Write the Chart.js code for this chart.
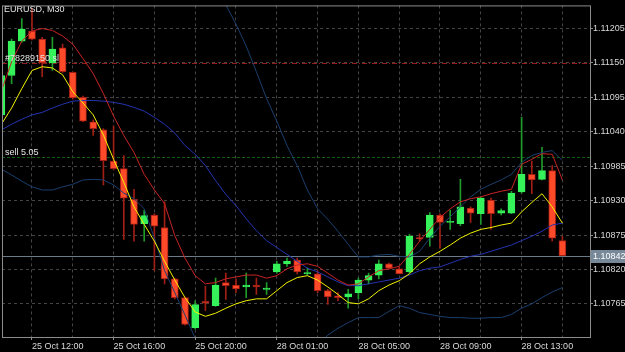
<!DOCTYPE html>
<html>
<head>
<meta charset="utf-8">
<script src="https://cdn.jsdelivr.net/npm/chart.js@4.4.1/dist/chart.umd.min.js"></script>
<style>
  html, body { margin: 0; padding: 0; background: #000; }
  #wrap { width: 625px; height: 352px; }
</style>
</head>
<body>
<div id="wrap"><canvas id="chart"></canvas></div>
<script>
const symbol = 'EURUSD, M30';

// M30 bars, Fri 25 Oct 10:30 -> Mon 28 Oct 15:00
const times = [
  '25 Oct 10:30', '25 Oct 11:00', '25 Oct 11:30', '25 Oct 12:00', '25 Oct 12:30', '25 Oct 13:00', '25 Oct 13:30', '25 Oct 14:00',
  '25 Oct 14:30', '25 Oct 15:00', '25 Oct 15:30', '25 Oct 16:00', '25 Oct 16:30', '25 Oct 17:00', '25 Oct 17:30', '25 Oct 18:00',
  '25 Oct 18:30', '25 Oct 19:00', '25 Oct 19:30', '25 Oct 20:00', '25 Oct 20:30', '25 Oct 21:00', '25 Oct 21:30', '25 Oct 22:00',
  '25 Oct 22:30', '25 Oct 23:00', '25 Oct 23:30', '28 Oct 01:00', '28 Oct 01:30', '28 Oct 02:00', '28 Oct 02:30', '28 Oct 03:00',
  '28 Oct 03:30', '28 Oct 04:00', '28 Oct 04:30', '28 Oct 05:00', '28 Oct 05:30', '28 Oct 06:00', '28 Oct 06:30', '28 Oct 07:00',
  '28 Oct 07:30', '28 Oct 08:00', '28 Oct 08:30', '28 Oct 09:00', '28 Oct 09:30', '28 Oct 10:00', '28 Oct 10:30', '28 Oct 11:00',
  '28 Oct 11:30', '28 Oct 12:00', '28 Oct 12:30', '28 Oct 13:00', '28 Oct 13:30', '28 Oct 14:00', '28 Oct 14:30', '28 Oct 15:00'
];

const opens = [
  1.11067, 1.11130, 1.11185, 1.11201, 1.11188, 1.11150, 1.11174, 1.11135, 1.11095, 1.11056,
  1.11043, 1.10993, 1.10981, 1.10932, 1.10893, 1.10907, 1.10887, 1.10805, 1.10775, 1.10727,
  1.10769, 1.10762, 1.10799, 1.10795, 1.10792, 1.10795, 1.10788, 1.10816, 1.10829, 1.10835,
  1.10813, 1.10813, 1.10786, 1.10778, 1.10776, 1.10783, 1.10803, 1.10811, 1.10829, 1.10821,
  1.10816, 1.10871, 1.10871, 1.10907, 1.10895, 1.10893, 1.10918, 1.10909, 1.10931, 1.10910,
  1.10910, 1.10944, 1.10972, 1.10964, 1.10978, 1.10866
];
const highs = [
  1.11133, 1.11188, 1.11221, 1.11237, 1.11191, 1.11191, 1.11180, 1.11136, 1.11097, 1.11059,
  1.11045, 1.11049, 1.11002, 1.10948, 1.10915, 1.10909, 1.10928, 1.10806, 1.10776, 1.10770,
  1.10793, 1.10806, 1.10814, 1.10805, 1.10814, 1.10806, 1.10799, 1.10833, 1.10838, 1.10838,
  1.10822, 1.10818, 1.10788, 1.10783, 1.10788, 1.10806, 1.10814, 1.10835, 1.10830, 1.10824,
  1.10876, 1.10877, 1.10911, 1.10909, 1.10915, 1.10964, 1.10920, 1.10936, 1.10934, 1.10917,
  1.10945, 1.11063, 1.10993, 1.11015, 1.10986, 1.10873
];
const lows = [
  1.11064, 1.11117, 1.11183, 1.11187, 1.11128, 1.11138, 1.11135, 1.11092, 1.11056, 1.11034,
  1.10955, 1.10980, 1.10868, 1.10865, 1.10865, 1.10818, 1.10797, 1.10773, 1.10731, 1.10725,
  1.10754, 1.10761, 1.10772, 1.10783, 1.10775, 1.10780, 1.10780, 1.10814, 1.10825, 1.10813,
  1.10811, 1.10783, 1.10764, 1.10770, 1.10758, 1.10773, 1.10797, 1.10805, 1.10821, 1.10813,
  1.10814, 1.10865, 1.10857, 1.10854, 1.10884, 1.10890, 1.10895, 1.10892, 1.10884, 1.10907,
  1.10909, 1.10942, 1.10941, 1.10963, 1.10865, 1.10842
];
const closes = [
  1.11130, 1.11185, 1.11204, 1.11188, 1.11150, 1.11172, 1.11136, 1.11094, 1.11057, 1.11045,
  1.10994, 1.10981, 1.10934, 1.10892, 1.10906, 1.10889, 1.10805, 1.10775, 1.10732, 1.10764,
  1.10766, 1.10795, 1.10794, 1.10789, 1.10795, 1.10792, 1.10790, 1.10829, 1.10833, 1.10816,
  1.10815, 1.10786, 1.10776, 1.10775, 1.10781, 1.10803, 1.10810, 1.10829, 1.10822, 1.10813,
  1.10873, 1.10869, 1.10907, 1.10895, 1.10897, 1.10920, 1.10910, 1.10934, 1.10909, 1.10914,
  1.10942, 1.10972, 1.10963, 1.10978, 1.10870, 1.10842
];

// indicators
const maYellow = [
  1.11052, 1.11078, 1.11109, 1.11138, 1.11144, 1.11142, 1.11131, 1.11104, 1.11086, 1.11067,
  1.11035, 1.10996, 1.10959, 1.10920, 1.10892, 1.10865, 1.10833, 1.10803, 1.10775, 1.10752,
  1.10745, 1.10750, 1.10758, 1.10765, 1.10770, 1.10773, 1.10773, 1.10786, 1.10799, 1.10807,
  1.10810, 1.10803, 1.10792, 1.10780, 1.10767, 1.10765, 1.10773, 1.10786, 1.10795, 1.10802,
  1.10813, 1.10829, 1.10840, 1.10849, 1.10859, 1.10870, 1.10878, 1.10884, 1.10887, 1.10891,
  1.10894, 1.10912, 1.10927, 1.10941, 1.10920, 1.10894
];
const maRed = [
  1.11105, 1.11152, 1.11185, 1.11201, 1.11205, 1.11202, 1.11193, 1.11180, 1.11157, 1.11133,
  1.11101, 1.11065, 1.11034, 1.11007, 1.10972, 1.10947, 1.10925, 1.10874, 1.10838, 1.10810,
  1.10797, 1.10799, 1.10805, 1.10808, 1.10811, 1.10811, 1.10806, 1.10810, 1.10821, 1.10827,
  1.10829, 1.10825, 1.10814, 1.10803, 1.10795, 1.10797, 1.10808, 1.10818, 1.10821, 1.10825,
  1.10844, 1.10865, 1.10884, 1.10903, 1.10917, 1.10928, 1.10933, 1.10936, 1.10941, 1.10945,
  1.10948, 1.10988, 1.10996, 1.11005, 1.11004, 1.10963
];
const bandMid = [
  1.11043, 1.11052, 1.11060, 1.11067, 1.11071, 1.11078, 1.11084, 1.11089, 1.11090, 1.11090,
  1.11089, 1.11087, 1.11084, 1.11079, 1.11073, 1.11063, 1.11052, 1.11038, 1.11018, 1.11004,
  1.10986, 1.10962, 1.10940, 1.10922, 1.10901, 1.10882, 1.10866, 1.10855, 1.10844, 1.10833,
  1.10822, 1.10816, 1.10808, 1.10800, 1.10794, 1.10794, 1.10797, 1.10800, 1.10803, 1.10806,
  1.10811, 1.10818, 1.10822, 1.10824, 1.10830, 1.10836, 1.10841, 1.10844, 1.10849, 1.10854,
  1.10859, 1.10866, 1.10873, 1.10881, 1.10891, 1.10894
];
const bandUp = [
  null, null, null, null, null, null, null, null, null, null,
  null, null, null, null, null, null, null, 1.11420, 1.11390, 1.11354,
  1.11314, 1.11278, 1.11243, 1.11212, 1.11177, 1.11136, 1.11093, 1.11057, 1.11018, 1.10986,
  1.10947, 1.10917, 1.10900, 1.10881, 1.10860, 1.10840, 1.10840, 1.10843, 1.10844, 1.10841,
  1.10840, 1.10849, 1.10870, 1.10889, 1.10904, 1.10920, 1.10936, 1.10948, 1.10956, 1.10963,
  1.10972, 1.10991, 1.11002, 1.11007, 1.11010, 1.10994
];
const bandLow = [
  1.10980, 1.10971, 1.10961, 1.10952, 1.10947, 1.10947, 1.10952, 1.10956, 1.10963, 1.10964,
  1.10963, 1.10955, 1.10942, 1.10933, 1.10917, 1.10870, 1.10818, 1.10783, 1.10747, 1.10710,
  1.10668, 1.10644, 1.10620, 1.10605, 1.10597, 1.10597, 1.10605, 1.10620, 1.10636, 1.10657,
  1.10679, 1.10699, 1.10715, 1.10726, 1.10735, 1.10743, 1.10743, 1.10743, 1.10753, 1.10762,
  1.10758, 1.10751, 1.10748, 1.10745, 1.10743, 1.10743, 1.10742, 1.10742, 1.10743, 1.10743,
  1.10748, 1.10758, 1.10765, 1.10775, 1.10784, 1.10791
];

const priceTicks = [1.10765, 1.10820, 1.10875, 1.10930, 1.10985, 1.11040, 1.11095, 1.11150, 1.11205];

const bid = 1.10842;
const slPrice = 1.11150;
const slLabel = '#78289150 sl';
const openPrice = 1.11000;
const openLabel = 'sell 5.05';

const UP = '#35f25a', DOWN = '#ff4a2a';
const UP_WICK = '#1f9a2a', DOWN_WICK = '#a01e14';

Chart.defaults.font.family = '"Liberation Sans", Arial, sans-serif';
Chart.defaults.font.size = 9;

const isUp = closes.map((c, i) => c >= opens[i]);

const asLine = (arr) => arr.map((v, i) => ({x: i, y: v}));

const lineSet = (label, arr, color) => ({
    type: 'line',
    label: label,
    data: asLine(arr),
    borderColor: color,
    borderWidth: 1,
    pointRadius: 0,
    tension: 0,
    order: 0,
    clip: {left: 0, top: 0, right: 0, bottom: 0}
});

const overlay = {
    id: 'overlay',
    beforeDatasetsDraw(chart) {
        const {ctx, chartArea: a, scales: {y}} = chart;
        const level = (price, color, dash) => {
            const py = Math.round(y.getPixelForValue(price)) + 0.5;
            ctx.save();
            ctx.strokeStyle = color;
            ctx.lineWidth = 1;
            ctx.setLineDash(dash);
            ctx.beginPath();
            ctx.moveTo(a.left, py);
            ctx.lineTo(a.right, py);
            ctx.stroke();
            ctx.restore();
        };
        level(bid, '#6d7a88', []);
        level(openPrice, '#0e600e', [3, 2]);
        level(slPrice, '#961c1c', [5, 2, 1, 2]);
    },
    afterDatasetsDraw(chart) {
        const {ctx, scales: {y}} = chart;
        ctx.save();
        ctx.font = '9px "Liberation Sans", Arial, sans-serif';
        ctx.fillStyle = '#e6e6e6';
        ctx.textBaseline = 'alphabetic';
        ctx.fillText(slLabel, 5, Math.round(y.getPixelForValue(slPrice)) - 2);
        ctx.fillText(openLabel, 5, Math.round(y.getPixelForValue(openPrice)) - 2);
        ctx.fillText(symbol, 4, 12);
        ctx.restore();
    },
    afterDraw(chart) {
        const {ctx, chartArea: a, scales: {y}} = chart;
        ctx.save();
        ctx.strokeStyle = '#8c8c8c';
        ctx.lineWidth = 1;
        ctx.strokeRect(a.left + 0.5, a.top + 0.5, a.right - a.left, a.bottom - a.top);
        // bid price tag
        const py = Math.round(y.getPixelForValue(bid));
        ctx.fillStyle = '#778899';
        ctx.fillRect(a.right + 1, py - 6, chart.width - a.right - 1, 13);
        ctx.fillStyle = '#ffffff';
        ctx.font = '9px "Liberation Sans", Arial, sans-serif';
        ctx.textBaseline = 'middle';
        ctx.fillText(bid.toFixed(5), a.right + 3, py + 1);
        ctx.restore();
    }
};

new Chart(document.getElementById('chart'), {
    type: 'bar',
    data: {
        datasets: [
            lineSet('MA fast', maYellow, '#f2f200'),
            lineSet('MA slow', maRed, '#c82424'),
            lineSet('BB mid', bandMid, '#2434b0'),
            lineSet('BB up', bandUp, '#1a3f6e'),
            lineSet('BB low', bandLow, '#1a3f6e'),
            {
                label: 'body',
                data: opens.map((o, i) => ({x: i, y: [o, closes[i]]})),
                backgroundColor: isUp.map(u => u ? UP : DOWN),
                borderColor: isUp.map(u => u ? UP : DOWN_WICK),
                borderWidth: 1,
                borderSkipped: false,
                barThickness: 7,
                minBarLength: 1,
                grouped: false,
                order: 1
            },
            {
                label: 'wick',
                data: lows.map((l, i) => ({x: i, y: [l, highs[i]]})),
                backgroundColor: isUp.map(u => u ? UP_WICK : DOWN_WICK),
                borderWidth: 0,
                barThickness: 1,
                grouped: false,
                order: 2
            }
        ]
    },
    options: {
        responsive: true,
        maintainAspectRatio: false,
        animation: false,
        layout: {padding: {left: 2, top: 1, right: 0, bottom: 0}},
        plugins: {
            legend: {display: false},
            tooltip: {enabled: false}
        },
        scales: {
            x: {
                type: 'linear',
                min: 0.059,
                max: 57.706,
                offset: false,
                afterBuildTicks: (scale) => {
                    const t = [];
                    for (let i = 3; i < times.length; i += 4) t.push({value: i});
                    scale.ticks = t;
                },
                afterFit: (scale) => { scale.height = 15; },
                border: {display: false, dash: [3, 3]},
                grid: {
                    offset: false,
                    color: '#444444',
                    tickLength: 3,
                    tickColor: (c) => (c.tick && c.tick.value % 8 === 3) ? '#8c8c8c' : 'rgba(0,0,0,0)'
                },
                ticks: {
                    autoSkip: false,
                    maxRotation: 0,
                    align: 'start',
                    padding: 1,
                    color: '#d8d8d8',
                    callback: (v) => (v % 8 === 3) ? times[v] : ''
                }
            },
            y: {
                type: 'linear',
                position: 'right',
                min: 1.10712,
                max: 1.11242,
                afterBuildTicks: (scale) => {
                    scale.ticks = priceTicks.map(v => ({value: v}));
                },
                afterFit: (scale) => { scale.width = 35; },
                border: {display: false, dash: [3, 3]},
                grid: {
                    color: '#444444',
                    tickLength: 3,
                    tickColor: '#8c8c8c'
                },
                ticks: {
                    padding: 0,
                    color: '#d8d8d8',
                    callback: (v) => v.toFixed(5)
                }
            }
        }
    },
    plugins: [overlay]
});
</script>
</body>
</html>
